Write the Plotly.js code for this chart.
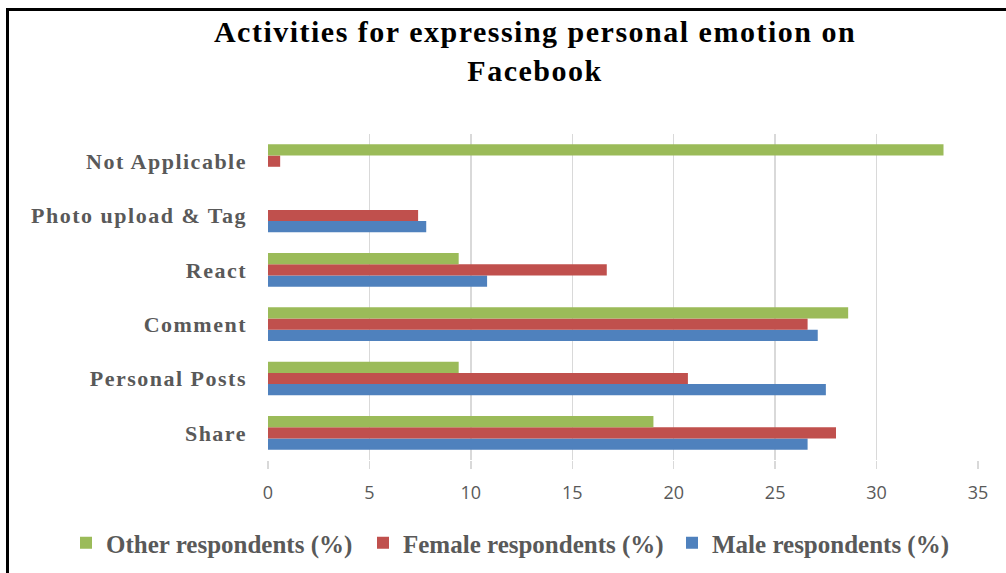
<!DOCTYPE html>
<html>
<head>
<meta charset="utf-8">
<script src="https://cdn.plot.ly/plotly-3.0.1.min.js"></script>
<style>
html,body{margin:0;padding:0;background:#fff;overflow:hidden;}
#chart{width:1006px;height:573px;}
#chart .ytick text{letter-spacing:1.5px;}
#chart .gtitle{letter-spacing:1.5px;}
</style>
</head>
<body>
<div id="chart"></div>
<script>
// Data
const categories = ["Share", "Personal Posts", "Comment", "React", "Photo upload & Tag", "Not Applicable"];
const maleValues = [26.6, 27.5, 27.1, 10.8, 7.8, 0];
const femaleValues = [28.0, 20.7, 26.6, 16.7, 7.4, 0.6];
const otherValues = [19.0, 9.4, 28.6, 9.4, 0, 33.3];
const xTickValues = [0, 5, 10, 15, 20, 25, 30, 35];
const seriesNames = ["Male respondents (%)", "Female respondents (%)", "Other respondents (%)"];

const W = 1006, H = 573;
const plotL = 268, plotR = 978, plotT = 134, plotB = 460;
const pw = plotR - plotL, ph = plotB - plotT;

const traces = [
  {type: "bar", orientation: "h", name: seriesNames[0], y: categories, x: maleValues,
   marker: {color: "#4F81BD"}, legend: "legend3"},
  {type: "bar", orientation: "h", name: seriesNames[1], y: categories, x: femaleValues,
   marker: {color: "#C0504D"}, legend: "legend2"},
  {type: "bar", orientation: "h", name: seriesNames[2], y: categories, x: otherValues,
   marker: {color: "#9BBB59"}, legend: "legend"}
];

const legendFont = {family: "Liberation Serif, Times New Roman, serif", size: 25, color: "#595959", weight: "bold"};
function legendAt(px) {
  return {
    orientation: "h",
    x: px / W, xref: "container", xanchor: "left",
    y: 1 - 543 / H, yref: "container", yanchor: "middle",
    font: legendFont, itemwidth: 30, bgcolor: "rgba(0,0,0,0)"
  };
}

const layout = {
  width: W, height: H,
  margin: {l: plotL, r: W - plotR, t: plotT, b: H - plotB, pad: 0},
  paper_bgcolor: "#ffffff", plot_bgcolor: "#ffffff",
  title: {
    text: "Activities for expressing personal emotion on<br>Facebook",
    font: {family: "Liberation Serif, Times New Roman, serif", size: 30, color: "#000000", weight: "bold"},
    x: 535 / W, xref: "container", xanchor: "center",
    y: 1 - 42 / H, yref: "container", yanchor: "top"
  },
  barmode: "group",
  bargap: 0.38,
  bargroupgap: 0,
  xaxis: {
    range: [0, 35], tickvals: xTickValues, ticktext: xTickValues.map(String),
    showgrid: true, gridcolor: "#d9d9d9", gridwidth: 1.5,
    zeroline: false, showline: false,
    ticks: "outside", ticklen: 8, tickcolor: "#d9d9d9", tickwidth: 1.5,
    ticklabelstandoff: 8,
    tickfont: {family: "Open Sans, Liberation Sans, sans-serif", size: 18, color: "#595959"},
    fixedrange: true
  },
  yaxis: {
    type: "category", categoryorder: "array", categoryarray: categories,
    showgrid: false, zeroline: false, showline: false, ticks: "",
    ticklabelstandoff: 20,
    tickfont: {family: "Liberation Serif, Times New Roman, serif", size: 22, color: "#595959", weight: "bold"},
    fixedrange: true
  },
  showlegend: true,
  legend: legendAt(66),
  legend2: legendAt(363),
  legend3: legendAt(672),
  shapes: [{
    type: "rect", xref: "paper", yref: "paper", layer: "above",
    x0: (7.5 - plotL) / pw, x1: (W + 50 - plotL) / pw,
    y0: (plotB - (H + 50)) / ph, y1: (plotB - 9.5) / ph,
    line: {color: "#000000", width: 3}, fillcolor: "rgba(0,0,0,0)"
  }]
};

Plotly.newPlot("chart", traces, layout, {displayModeBar: false, staticPlot: true});
</script>
</body>
</html>
